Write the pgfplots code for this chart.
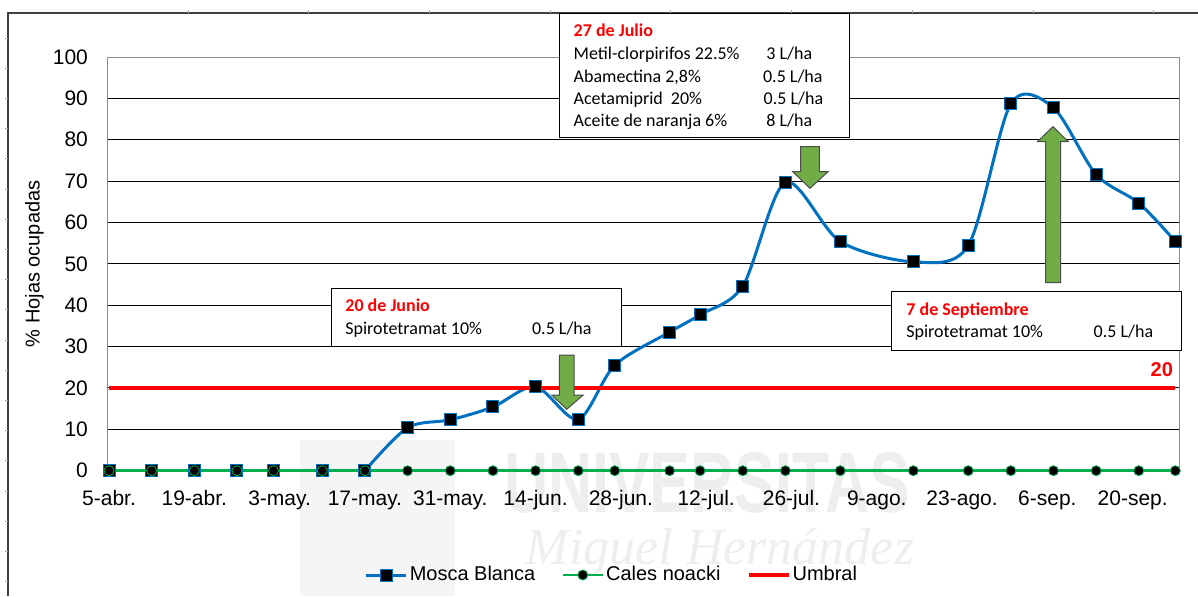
\documentclass[border=0pt]{standalone}
\usepackage{pgfplots}
\pgfplotsset{compat=1.18}
\usepackage{fontspec}
\setmainfont{Liberation Sans}
\newfontfamily\calibri{Carlito}
\newfontfamily\serifwm{Liberation Serif}
\definecolor{mblue}{RGB}{0,112,192}
\definecolor{cgreen}{RGB}{0,176,80}
\definecolor{agreen}{RGB}{112,173,71}
\definecolor{wm}{RGB}{238,238,238}

\pgfplotstableread{
day mosca cales umbral
0   0     0 20
7   0     0 20
14  0     0 20
21  0     0 20
27  0     0 20
35  0     0 20
42  0     0 20
49  10.4  0 20
56  12.3  0 20
63  15.4  0 20
70  20.3  0 20
77  12.4  0 20
83  25.5  0 20
92  33.5  0 20
97  37.7  0 20
104 44.6  0 20
111 69.7  0 20
120 55.4  0 20
132 50.5  0 20
141 54.4  0 20
148 88.7  0 20
155 87.7  0 20
162 71.6  0 20
169 64.7  0 20
175 55.4  0 20
}\datatable

\begin{document}
\begin{tikzpicture}
\path[use as bounding box] (0,0) rectangle (599pt,298pt);

% watermark (background)
\begin{scope}[x=0.5pt,y=-0.5pt,yshift=298pt]
  \fill[black!4] (300,440) rectangle (455,596);
  \node[text=wm, inner sep=0pt] at (707,483) {\scalebox{0.71}[1]{\fontsize{43}{46}\selectfont\bfseries UNIVERSITAS}};
  \node[text=wm, inner sep=0pt] at (720,552) {\serifwm\itshape\fontsize{26}{28}\selectfont Miguel Hernández};
\end{scope}

\begin{axis}[
  at={(53.5pt,62.65pt)}, anchor=south west,
  scale only axis, width=536pt, height=206.85pt,
  xmin=-0.33, xmax=175.6, ymin=0, ymax=100,
  clip=false,
  xtick={0,14,...,168},
  xticklabels={5-abr.,19-abr.,3-may.,17-may.,31-may.,14-jun.,28-jun.,12-jul.,26-jul.,9-ago.,23-ago.,6-sep.,20-sep.},
  ytick={0,10,...,100},
  ymajorgrids,
  major grid style={black, line width=0.5pt},
  axis line style={black!45, line width=0.5pt},
  major tick length=0pt,
  tick label style={font=\fontsize{10.5}{12}\selectfont},
  /pgf/number format/assume math mode=true,
  xticklabel style={anchor=base, yshift=-17.15pt},
  yticklabel style={anchor=east, inner sep=0pt, xshift=-9.35pt},
  ylabel={\% Hojas ocupadas},
  every axis y label/.style={at={(axis description cs:-0.0676,0.5)}, rotate=90, anchor=center, font=\fontsize{10}{12}\selectfont},
  legend columns=3,
  legend style={at={(axis description cs:0.471,-0.2521)}, anchor=center, draw=none, fill=none,
    font=\fontsize{10}{12}\selectfont,
    /tikz/every even column/.append style={column sep=12pt},
    nodes={inner sep=1pt}},
  legend image code/.code={\draw[mark repeat=2,mark phase=2,#1] plot coordinates {(0pt,0pt) (10pt,0pt) (20pt,0pt)};},
]
% Mosca Blanca: flat start, smoothed rise, then markers on top
\addplot[mblue, line width=1.5pt, no marks, forget plot, restrict x to domain=0:42] table[x=day, y=mosca] {\datatable};
\addplot[mblue, line width=1.5pt, no marks, smooth, forget plot, restrict x to domain=42:175] table[x=day, y=mosca] {\datatable};
\addplot[only marks, mark=square*, mark size=3pt,
  mark options={fill=black, draw=mblue, line width=0.5pt, solid}, forget plot] table[x=day, y=mosca] {\datatable};
\addlegendimage{mblue, line width=1.5pt, mark=square*, mark size=3pt, mark options={fill=black, draw=mblue, line width=0.5pt, solid}}
\addlegendentry{Mosca Blanca}
\addplot[cgreen, line width=1.35pt, mark=*, mark size=2.5pt,
  mark options={fill=black, draw=cgreen, line width=0.4pt, solid}] table[x=day, y=cales] {\datatable};
\addlegendentry{Cales noacki}
\addplot[red, line width=2pt, no marks] table[x=day, y=umbral] {\datatable};
\addlegendentry{Umbral}
\end{axis}

\begin{scope}[x=0.5pt,y=-0.5pt,yshift=298pt]
  % outer frame
  \draw[black!75, line width=0.75pt] (8,596) -- (8,13) -- (1198,13);
  \foreach \yy in {38,68.2,...,590} \draw[black!35, line width=0.4pt] (5,\yy) -- (8,\yy);
  \foreach \xx in {188,308.7,...,1190} \draw[black!35, line width=0.4pt] (\xx,10) -- (\xx,13);

  % 20 label
  \node[anchor=base east, inner sep=0pt, text=red, font=\fontsize{10}{12}\selectfont\bfseries] at (1173.3,376) {20};

  % box 1
  \draw[black, fill=white, line width=0.5pt] (559.3,13.3) rectangle (849,137.3);
  \begin{scope}[every node/.style={anchor=base west, inner sep=0pt, font=\calibri\fontsize{9}{11}\selectfont}]
    \node[text=red, font=\calibri\bfseries\fontsize{9}{11}\selectfont] at (573.3,36.7) {27 de Julio};
    \node at (573.3,59.3) {Metil-clorpirifos 22.5\%};
    \node at (766,59.3) {3 L/ha};
    \node at (573.3,82.7) {Abamectina 2,8\%};
    \node at (762.7,82.7) {0.5 L/ha};
    \node at (573.3,104.3) {Acetamiprid\ \ 20\%};
    \node at (763.3,104.3) {0.5 L/ha};
    \node at (573.3,126) {Aceite de naranja 6\%};
    \node at (766,126) {8 L/ha};
  \end{scope}

  % box 2
  \draw[black, fill=white, line width=0.5pt] (331.7,288.3) rectangle (621.7,346.7);
  \begin{scope}[every node/.style={anchor=base west, inner sep=0pt, font=\calibri\fontsize{9}{11}\selectfont}]
    \node[text=red, font=\calibri\bfseries\fontsize{9}{11}\selectfont] at (345,311.7) {20 de Junio};
    \node at (345,334) {Spirotetramat 10\%};
    \node at (531.7,334) {0.5 L/ha};
  \end{scope}

  % box 3
  \draw[black, fill=white, line width=0.5pt] (891,291) rectangle (1181.7,350);
  \begin{scope}[every node/.style={anchor=base west, inner sep=0pt, font=\calibri\fontsize{9}{11}\selectfont}]
    \node[text=red, font=\calibri\bfseries\fontsize{9}{11}\selectfont] at (906,315) {7 de Septiembre};
    \node at (906,337.3) {Spirotetramat 10\%};
    \node at (1093.3,337.3) {0.5 L/ha};
  \end{scope}

  % arrows
  \filldraw[fill=agreen, draw=black!70, line width=0.5pt, line join=miter]
    (800.7,146.7) -- (819.3,146.7) -- (819.3,171.7) -- (828,171.7) -- (810,188.3) -- (792.7,171.7) -- (800.7,171.7) -- cycle;
  \filldraw[fill=agreen, draw=black!70, line width=0.5pt, line join=miter]
    (559.3,355) -- (574,355) -- (574,395) -- (583.3,395) -- (566.7,409.3) -- (551.7,395) -- (559.3,395) -- cycle;
  \filldraw[fill=agreen, draw=black!70, line width=0.5pt, line join=miter]
    (1045.7,282.7) -- (1060.7,282.7) -- (1060.7,141.7) -- (1068.3,141.7) -- (1053,126.7) -- (1037.3,141.7) -- (1045.7,141.7) -- cycle;
\end{scope}
\end{tikzpicture}
\end{document}
